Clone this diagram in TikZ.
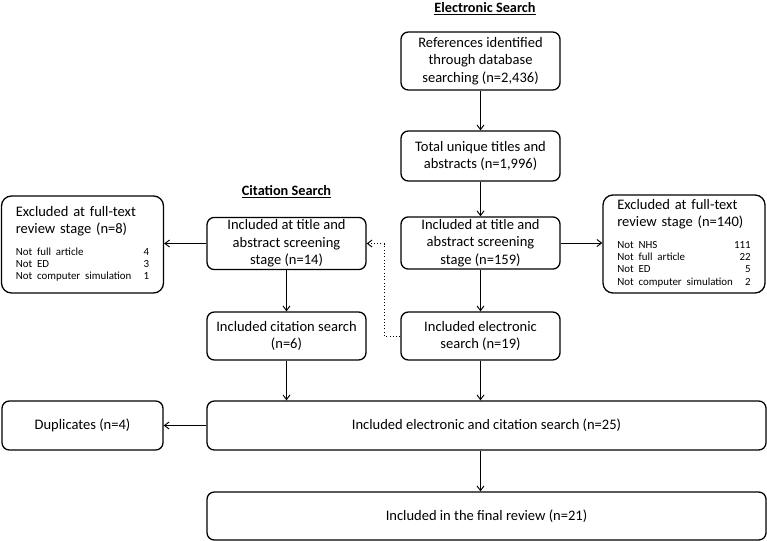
\documentclass[tikz,border=0pt]{standalone}
\usepackage{fontspec}
\setmainfont{Carlito}
\usetikzlibrary{arrows.meta,positioning,calc}

\newcommand{\itemfont}{\fontsize{9.3}{10.4}\selectfont}

\begin{document}
\begin{tikzpicture}[
    x=0.03cm, y=-0.03cm,
    box/.style={rectangle, draw, line width=1.1pt, rounded corners=0.22cm, align=center, inner sep=2pt, font=\fontsize{12.4}{14.9}\selectfont},
    excl/.style={rectangle, draw, line width=1.1pt, rounded corners=0.3cm, align=left, text width=4cm, minimum width=4.86cm, font=\fontsize{12.4}{14.9}\selectfont},
    heading/.style={font=\fontsize{12.2}{14}\selectfont\bfseries},
    arrow/.style={line width=0.8pt, -{Straight Barb[length=4pt,width=6pt]}},
    dotarrow/.style={line width=0.8pt, dotted, -{Straight Barb[length=4pt,width=6pt]}}
]
\useasboundingbox (0,0) rectangle (767,541);

% ELECTRONIC SEARCH
\node[heading] (elhead) at (485, 9) {\underline{Electronic Search}};

\node[box, minimum width=4.77cm, minimum height=1.74cm] (ref) at (480.5, 61) {References identified\\through database\\searching (n=2,436)};
\node[box, minimum width=4.77cm, minimum height=1.5cm] (uniq) at (480.5, 156) {Total unique titles and\\abstracts (n=1,996)};
\node[box, minimum width=4.77cm, minimum height=1.5cm] (incel) at (480.5, 243) {Included at title and\\abstract screening\\stage (n=159)};
\node[box, minimum width=4.77cm, minimum height=1.44cm] (elsearch) at (480.5, 336) {Included electronic\\search (n=19)};

% Excluded (electronic)
\node[excl, minimum height=2.94cm] (excel) at (684, 244) {Excluded at full-text\\review stage (n=140)\\[8pt]
{\itemfont\begin{tabular*}{4cm}{@{}l@{\extracolsep{\fill}}r@{}}
Not NHS & 111\\
Not full article & 22\\
Not ED & 5\\
Not computer simulation & 2
\end{tabular*}}};

\draw[arrow] (ref) -- (uniq);
\draw[arrow] (uniq) -- (incel);
\draw[arrow] (incel) -- (elsearch);
\draw[arrow] (incel.east) -- (excel.west |- incel.east);

% CITATION SEARCH
\node[heading] (cithead) at (286.5, 192) {\underline{Citation Search}};

\node[box, minimum width=4.77cm, minimum height=1.53cm] (inccit) at (286.5, 243.5) {Included at title and\\abstract screening\\stage (n=14)};
\node[box, minimum width=4.77cm, minimum height=1.44cm] (citsearch) at (286.5, 336) {Included citation search\\(n=6)};

% Excluded (citation)
\node[excl, minimum height=2.91cm] (exccit) at (82.5, 244.5) {Excluded at full-text\\review stage (n=8)\\[8pt]
{\itemfont\begin{tabular*}{4cm}{@{}l@{\extracolsep{\fill}}r@{}}
Not full article & 4\\
Not ED & 3\\
Not computer simulation & 1
\end{tabular*}}};

\draw[arrow] (inccit) -- (citsearch);
\draw[arrow] (inccit.west) -- (exccit.east |- inccit.west);

% Dotted link from electronic to citation
\coordinate (dotbend) at (384, 243.5);
\draw[dotarrow] (elsearch.west) -| (dotbend) -- (inccit.east);

% COMBINED
\node[box, minimum width=16.77cm, minimum height=1.47cm] (both) at (486.5, 425.5) {Included electronic and citation search (n=25)};
\node[box, minimum width=4.83cm, minimum height=1.47cm] (dup) at (82.5, 425.5) {Duplicates (n=4)};
\node[box, minimum width=16.77cm, minimum height=1.44cm] (final) at (486.5, 516) {Included in the final review (n=21)};

\draw[arrow] (citsearch.south) -- (citsearch.south |- both.north);
\draw[arrow] (elsearch.south) -- (elsearch.south |- both.north);
\draw[arrow] (both.west) -- (dup.east);
\draw[arrow] (both.south -| elsearch.south) -- (final.north -| elsearch.south);

\end{tikzpicture}
\end{document}
